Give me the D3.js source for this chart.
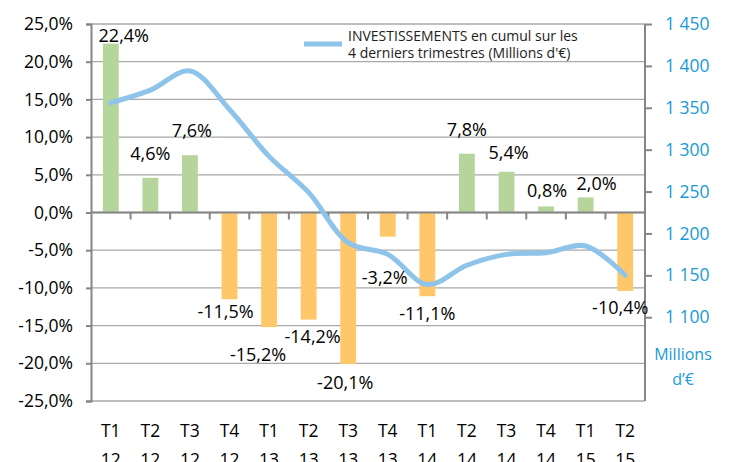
<!DOCTYPE html>
<html><head><meta charset="utf-8">
<script src="https://cdn.jsdelivr.net/npm/d3@7"></script>
<style>body{margin:0;background:#fff}svg{display:block}text{font-family:"Open Sans","Noto Sans",sans-serif}</style>
</head><body><svg id="c" width="729" height="462"></svg>
<script>
const quarters = ["T1","T2","T3","T4","T1","T2","T3","T4","T1","T2","T3","T4","T1","T2"];
const years = ["12","12","12","12","13","13","13","13","14","14","14","14","15","15"];
const growth = [22.4,4.6,7.6,-11.5,-15.2,-14.2,-20.1,-3.2,-11.1,7.8,5.4,0.8,2.0,-10.4];
const invest = [1356,1371,1394,1348,1292,1249,1189,1175,1139,1162,1175,1177,1185,1150];
const leftTicks = [25,20,15,10,5,0,-5,-10,-15,-20,-25];
const rightTicks = [1100,1150,1200,1250,1300,1350,1400,1450];
const labelOffsets = [[13,-2],[0,-18],[2,-18],[-4,19],[-11,34],[4,23],[-3,25],[-3,47],[0,24],[0,-18],[2,-13],[1,-9],[11,-7],[-5,23]];

const svg = d3.select("#c");
const L = 91, R = 645, T = 24, B = 401;
const keys = d3.range(growth.length);
const x = d3.scaleBand().domain(keys).range([L, R]).paddingInner(0.6).paddingOuter(0.3);
const y = d3.scaleLinear().domain([-25, 25]).range([B, T]);
const y2 = d3.scaleLinear().domain([1000, 1450]).range([B, T]);
const fmt = v => v.toFixed(1).replace(".", ",") + "%";

// gridlines
svg.append("g").selectAll("line").data(leftTicks).join("line")
  .attr("x1", L).attr("x2", R).attr("y1", d => y(d)).attr("y2", d => y(d))
  .attr("stroke", "#a9a9a9").attr("stroke-width", 1.3);

// bars
svg.append("g").selectAll("rect").data(keys).join("rect")
  .attr("x", i => x(i)).attr("width", x.bandwidth())
  .attr("y", i => y(Math.max(0, growth[i])))
  .attr("height", i => Math.abs(y(growth[i]) - y(0)))
  .attr("fill", i => growth[i] >= 0 ? "#b6d59c" : "#fec76a");

// left axis
const ya = svg.append("g").attr("transform", `translate(${L},0)`)
  .call(d3.axisLeft(y).tickValues(leftTicks).tickFormat(d => d.toFixed(1).replace(".", ",") + "%").tickSize(5).tickPadding(13));
ya.select(".domain").attr("stroke", "#868686").attr("stroke-width", 2);
ya.selectAll(".tick line").attr("stroke", "#868686").attr("stroke-width", 2);
ya.selectAll("text").attr("font-size", 17.5).attr("fill", "#000");

// zero axis with category ticks
const zeroY = y(0);
svg.append("line").attr("x1", L).attr("x2", R).attr("y1", zeroY).attr("y2", zeroY)
  .attr("stroke", "#868686").attr("stroke-width", 2);
const step = x.step();
svg.append("g").selectAll("line").data(d3.range(1, growth.length)).join("line")
  .attr("x1", i => x(i) - step * x.paddingInner() / 2).attr("x2", i => x(i) - step * x.paddingInner() / 2)
  .attr("y1", zeroY).attr("y2", zeroY + 7).attr("stroke", "#868686").attr("stroke-width", 2);

// right axis
const yb = svg.append("g").attr("transform", `translate(${R},0)`)
  .call(d3.axisRight(y2).tickValues(rightTicks).tickFormat(d => d3.format(",")(d).replace(",", " ")).tickSize(7).tickPadding(13));
yb.select(".domain").attr("stroke", "#868686").attr("stroke-width", 2).attr("d", `M0,${B}V${T}`);
yb.selectAll(".tick line").attr("stroke", "#868686").attr("stroke-width", 2);
yb.selectAll("text").attr("font-size", 17.5).attr("fill", "#1a9ad6");

svg.append("text").attr("x", 683).attr("y", 360).attr("text-anchor", "middle")
  .attr("font-size", 16).attr("fill", "#1a9ad6").text("Millions");
svg.append("text").attr("x", 683).attr("y", 385).attr("text-anchor", "middle")
  .attr("font-size", 16).attr("fill", "#1a9ad6").text("d’€");

// line
const cx = i => x(i) + x.bandwidth() / 2;
svg.append("path").datum(keys)
  .attr("d", d3.line().x(i => cx(i)).y(i => y2(invest[i])).curve(d3.curveCatmullRom.alpha(0.5)))
  .attr("fill", "none").attr("stroke", "#8ec4ea").attr("stroke-width", 5).attr("stroke-linecap", "round");

// data labels
svg.append("g").selectAll("text").data(keys).join("text")
  .attr("x", i => cx(i) + labelOffsets[i][0])
  .attr("y", i => y(growth[i]) + labelOffsets[i][1])
  .attr("text-anchor", "middle").attr("font-size", 18).attr("fill", "#000")
  .text(i => fmt(growth[i]));

// x labels
const xl = svg.append("g").selectAll("text").data(keys).join("text")
  .attr("text-anchor", "middle").attr("font-size", 17.5).attr("fill", "#000");
xl.append("tspan").attr("x", i => cx(i)).attr("y", 437).text(i => quarters[i]);
xl.append("tspan").attr("x", i => cx(i)).attr("y", 466).text(i => years[i]);

// legend
svg.append("line").attr("x1", 304).attr("x2", 342).attr("y1", 44).attr("y2", 44)
  .attr("stroke", "#8ec4ea").attr("stroke-width", 5);
svg.append("text").attr("x", 348).attr("y", 41).attr("font-size", 14).attr("fill", "#222")
  .attr("font-family", "'Liberation Sans Narrow','Roboto Condensed',sans-serif")
  .text("INVESTISSEMENTS en cumul sur les");
svg.append("text").attr("x", 348).attr("y", 58).attr("font-size", 14).attr("fill", "#222")
  .attr("font-family", "'Liberation Sans Narrow','Roboto Condensed',sans-serif")
  .text("4 derniers trimestres (Millions d'€)");
</script></body></html>
